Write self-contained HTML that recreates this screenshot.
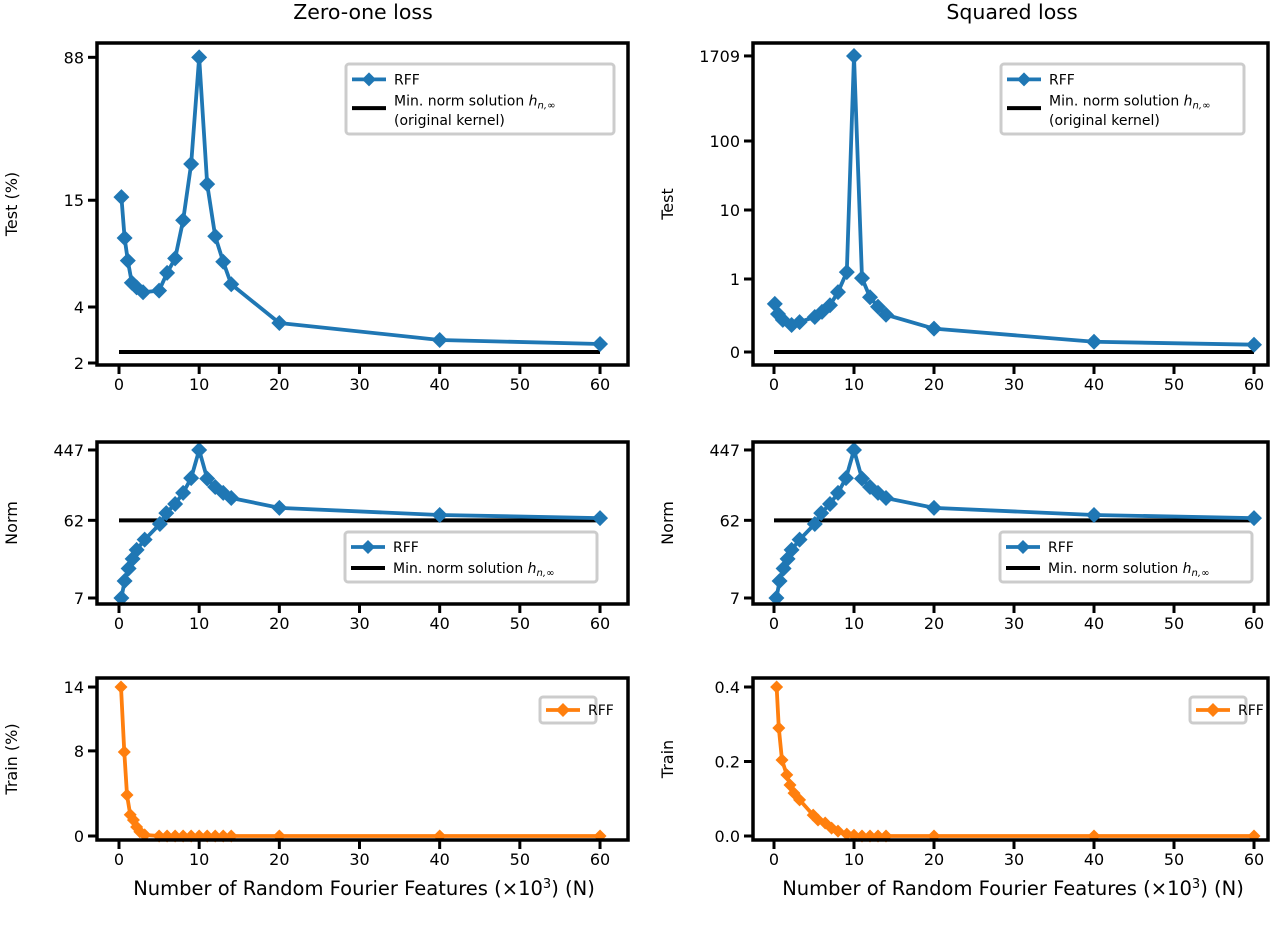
<!DOCTYPE html>
<html><head><meta charset="utf-8"><style>
body{margin:0;background:#fff;}
svg{display:block;font-family:"DejaVu Sans","Liberation Sans",sans-serif;}
</style></head><body>
<svg id="fig" width="1280" height="925" viewBox="0 0 1280 925" xmlns="http://www.w3.org/2000/svg">
<text x="363" y="19" font-size="20.5" text-anchor="middle">Zero-one loss</text>
<text x="1012" y="19" font-size="20.5" text-anchor="middle">Squared loss</text>
<text x="364" y="895" font-size="19.5" text-anchor="middle">Number of Random Fourier Features (×10<tspan dy="-7" font-size="13">3</tspan><tspan dy="7">) (N)</tspan></text>
<text x="1013" y="895" font-size="19.5" text-anchor="middle">Number of Random Fourier Features (×10<tspan dy="-7" font-size="13">3</tspan><tspan dy="7">) (N)</tspan></text>
</svg>
<script>
// ---- data ----
const xTicks = [0,10,20,30,40,50,60];
const ztestX = [0.3,0.7,1.1,1.6,2.2,3,5,6,7,8,9,10,11,12,13,14,20,40,60];
const ztestY = [15.6,9.4,7.1,5.4,5.1,4.8,4.9,6.1,7.3,11.7,23.5,88,18.3,9.6,7.0,5.3,3.28,2.66,2.53];
const ztestRef = 2.29;
const ztestTicks = [2,4,15,88];
const stestX = [0.1,0.5,1.1,2.2,3.2,5.1,6,7,8,9.1,10,11,12,13,14,20,40,60];
const stestY = [0.66,0.52,0.44,0.37,0.41,0.48,0.55,0.64,0.82,1.26,1709,1.03,0.75,0.62,0.51,0.32,0.14,0.10];
const stestRef = 0;
const stestTicks = [0,1,10,100,1709];
const normX = [0.3,0.7,1.2,1.7,2.2,3.2,5.1,5.9,7,8,9,10,11,12,13,14,20,40,60];
const normY = [7,11.3,16,21,27,36,56,76,98,134,203,447,200,158,134,116,88,72,66];
const normRef = 62;
const normTicks = [7,62,447];
const ztrainX = [0.25,0.66,1.0,1.4,1.8,2.2,2.6,3.2,5,6,7,8,9,10,11,12,13,14,20,40,60];
const ztrainY = [14,7.9,3.85,2.0,1.5,0.85,0.4,0.1,0,0,0,0,0,0,0,0,0,0,0,0,0];
const ztrainTicks = [0,8,14];
const strainX = [0.33,0.6,1.0,1.6,2.0,2.5,3.2,4.9,5.5,6.4,7.2,8,9.1,10,11,12,13,14,20,40,60];
const strainY = [0.40,0.29,0.204,0.164,0.137,0.115,0.097,0.056,0.043,0.035,0.021,0.013,0.005,0.002,0,0,0,0,0,0,0];
const strainTicks = [0.0,0.2,0.4];

const NS="http://www.w3.org/2000/svg";
const svg=document.getElementById('fig');
function el(tag,attrs,parent){const e=document.createElementNS(NS,tag);for(const k in attrs)e.setAttribute(k,attrs[k]);(parent||svg).appendChild(e);return e;}
function xScale(left){const x0=left?119:774, k=left?8.017:8.0;return v=>x0+v*k;}
function logScale(vRef,yRef,pxPerDec){return v=>yRef-pxPerDec*Math.log10(v/vRef);}
function linScale(yZero,pxPerUnit){return v=>yZero-v*pxPerUnit;}
function symScale(v){return v<=1? 352-73*v : 279-69*Math.log10(v);}

function panel(o){
  const g=el('g',{});
  
  
  const fx=xScale(o.left);
  const color=o.color;
  if(o.ref!==undefined){
    const r=el('line',{x1:fx(0),x2:fx(60),y1:o.fy(o.ref),y2:o.fy(o.ref),stroke:'#000','stroke-width':4},g);
    
    
  }
  const pts=o.xs.map((x,i)=>fx(x)+','+o.fy(o.ys[i])).join(' ');
  const pl=el('polyline',{points:pts,fill:'none',stroke:color,'stroke-width':3.8,'stroke-linejoin':'round'},g);
  
  
  o.xs.forEach((x,i)=>{
    const cx=fx(x),cy=o.fy(o.ys[i]),s=o.ms;
    const m=el('polygon',{points:`${cx},${cy-s} ${cx+s},${cy} ${cx},${cy+s} ${cx-s},${cy}`,fill:color},g);
    
    
  });
  const f=el('rect',{x:o.fx0,y:o.fy0,width:o.fx1-o.fx0,height:o.fy1-o.fy0,fill:'none',stroke:'#000','stroke-width':3.5},g);
  
  
  xTicks.forEach(t=>{
    const x=fx(t);
    el('line',{x1:x,x2:x,y1:o.fy1,y2:o.fy1+9,stroke:'#000','stroke-width':3},g);
    const tx=el('text',{x:x,y:o.fy1+25,'font-size':16,'text-anchor':'middle'},g);
    tx.textContent=t;
    
    
  });
  o.yticks.forEach(t=>{
    const y=o.fy(t);
    el('line',{x1:o.fx0-9,x2:o.fx0,y1:y,y2:y,stroke:'#000','stroke-width':3},g);
    const ty=el('text',{x:o.fx0-13,y:y+6,'font-size':16,'text-anchor':'end'},g);
    ty.textContent=o.fmt?o.fmt(t):t;
    
    
  });
  const yl=el('text',{x:0,y:0,'font-size':16,'text-anchor':'middle',transform:`translate(${o.fx0-80},${(o.fy0+o.fy1)/2}) rotate(-90)`},g);
  yl.textContent=o.ylabel;
  
  
  const L=o.leg;
  const lg=el('g',{},g);
  
  
  el('rect',{x:L.x,y:L.y,width:L.w,height:L.h,rx:3,fill:'#fff',stroke:'#ccc','stroke-width':3},lg);
  const ly=L.y+L.h*(L.lines.length>1?(L.lines.length>2?0.22:0.3):0.5);
  el('line',{x1:L.x+6,x2:L.x+40,y1:ly,y2:ly,stroke:color,'stroke-width':3.8},lg);
  el('polygon',{points:`${L.x+23},${ly-7} ${L.x+30},${ly} ${L.x+23},${ly+7} ${L.x+16},${ly}`,fill:color},lg);
  const t1=el('text',{x:L.x+48,y:ly+5,'font-size':14},lg);t1.textContent='RFF';
  
  
  if(L.lines.length>1){
    const ly2=L.lines.length>2?L.y+L.h*0.63:L.y+L.h*0.72;
    el('line',{x1:L.x+6,x2:L.x+40,y1:ly2,y2:ly2,stroke:'#000','stroke-width':4},lg);
    const t2=el('text',{x:L.x+48,y:(L.lines.length>2?L.y+L.h*0.52:ly2)+5,'font-size':14},lg);
    t2.innerHTML='Min. norm solution <tspan font-style="italic">h</tspan><tspan font-size="10" dy="3" font-style="italic">n,∞</tspan>';
    
    
    if(L.lines.length>2){
      const t3=el('text',{x:L.x+48,y:L.y+L.h*0.8+5,'font-size':14},lg);t3.textContent='(original kernel)';
      
      
    }
  }
}
const blue='#1f77b4',orange='#ff7f0e';
const TL={x0:97,x1:628},TR={x0:753,x1:1268};
panel({name:'zero-one-test-panel',left:true,xs:ztestX,ys:ztestY,ref:ztestRef,yticks:ztestTicks,fy:logScale(2,363,186),color:blue,ms:8,
  fx0:TL.x0,fx1:TL.x1,fy0:43,fy1:365,ylabel:'Test (%)',leg:{x:346,y:64,w:268,h:70,lines:[1,2,3]}});
panel({name:'squared-test-panel',left:false,xs:stestX,ys:stestY,ref:stestRef,yticks:stestTicks,fy:symScale,color:blue,ms:8,
  fx0:TR.x0,fx1:TR.x1,fy0:43,fy1:365,ylabel:'Test',leg:{x:1001,y:64,w:243,h:70,lines:[1,2,3]}});
panel({name:'zero-one-norm-panel',left:true,xs:normX,ys:normY,ref:normRef,yticks:normTicks,fy:logScale(7,598,82),color:blue,ms:8,
  fx0:TL.x0,fx1:TL.x1,fy0:442,fy1:604,ylabel:'Norm',leg:{x:345,y:532,w:252,h:50,lines:[1,2]}});
panel({name:'squared-norm-panel',left:false,xs:normX,ys:normY,ref:normRef,yticks:normTicks,fy:logScale(7,598,82),color:blue,ms:8,
  fx0:TR.x0,fx1:TR.x1,fy0:442,fy1:604,ylabel:'Norm',leg:{x:1000,y:532,w:252,h:50,lines:[1,2]}});
panel({name:'zero-one-train-panel',left:true,xs:ztrainX,ys:ztrainY,yticks:ztrainTicks,fy:linScale(836,10.64),color:orange,ms:6.5,
  fx0:TL.x0,fx1:TL.x1,fy0:678,fy1:840,ylabel:'Train (%)',leg:{x:540,y:697,w:56,h:26,lines:[1]}});
panel({name:'squared-train-panel',left:false,xs:strainX,ys:strainY,yticks:strainTicks,fy:linScale(836,372.5),color:orange,ms:6.5,
  fx0:TR.x0,fx1:TR.x1,fy0:678,fy1:840,ylabel:'Train',leg:{x:1190,y:697,w:56,h:26,lines:[1]},fmt:t=>t.toFixed(1)});
</script>
</body></html>
